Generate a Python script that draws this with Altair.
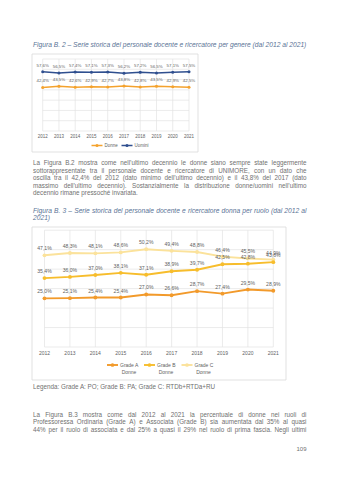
import altair as alt
import pandas as pd

# ---------------- data ----------------
years = [2012, 2013, 2014, 2015, 2016, 2017, 2018, 2019, 2020, 2021]

# Figura B.2
gender_series = ["Donne", "Uomini"]
donne = [42.4, 43.5, 42.6, 42.9, 42.7, 43.8, 42.8, 43.5, 42.9, 42.5]
uomini = [57.6, 56.5, 57.4, 57.1, 57.3, 56.2, 57.2, 56.5, 57.1, 57.5]

# Figura B.3
grade_series = ["Grade A Donne", "Grade B Donne", "Grade C Donne"]
grade_a = [25.0, 25.1, 25.4, 25.4, 27.0, 26.6, 28.7, 27.4, 29.5, 28.9]
grade_b = [35.4, 36.0, 37.0, 38.1, 37.1, 38.9, 39.7, 42.5, 42.8, 43.6]
grade_c = [47.1, 48.3, 48.1, 48.6, 50.2, 49.4, 48.8, 46.4, 45.5, 44.9]

caption1 = ["Figura B. 2 – Serie storica del personale docente e ricercatore per genere (dal 2012 al 2021)"]
para1 = [
    "La Figura B.2 mostra come nell\u2019ultimo decennio le donne siano sempre state leggermente",
    "sottorappresentate tra il personale docente e ricercatore di UNIMORE, con un dato che",
    "oscilla tra il 42,4% del 2012 (dato minimo dell\u2019ultimo decennio) e il 43,8% del 2017 (dato",
    "massimo dell\u2019ultimo decennio). Sostanzialmente la distribuzione donne/uomini nell\u2019ultimo",
    "decennio rimane pressoché invariata.",
]
caption2 = [
    "Figura B. 3 – Serie storica del personale docente e ricercatore donna per ruolo (dal 2012 al",
    "2021)",
]
legenda = ["Legenda: Grade A: PO; Grade B: PA; Grade C: RTDb+RTDa+RU"]
para3 = [
    "La Figura B.3 mostra come dal 2012 al 2021 la percentuale di donne nei ruoli di",
    "Professoressa Ordinaria (Grade A) e Associata (Grade B) sia aumentata dal 35% al quasi",
    "44% per il ruolo di associata e dal 25% a quasi il 29% nel ruolo di prima fascia. Negli ultimi",
]
page_number = ["109"]

# ---------------- styles ----------------
FONT = "Liberation Sans"
TXT = "#707070"
CAP = "#5a7396"
LAB = "#5f5f5f"
GRID = "#e3e3e3"
LEFT, RIGHT = 33.0, 306.5

# Arial / Liberation Sans advance widths (per 1000 em)
_W = {" ": 278, "a": 556, "b": 556, "c": 500, "d": 556, "e": 556, "f": 278, "g": 556, "h": 556,
      "i": 222, "j": 222, "k": 500, "l": 222, "m": 833, "n": 556, "o": 556, "p": 556, "q": 556,
      "r": 333, "s": 500, "t": 278, "u": 556, "v": 500, "w": 722, "x": 500, "y": 500, "z": 500,
      "A": 667, "B": 667, "C": 722, "D": 722, "E": 667, "F": 611, "G": 778, "H": 722, "I": 278,
      "J": 500, "K": 667, "L": 556, "M": 833, "N": 722, "O": 778, "P": 667, "Q": 778, "R": 722,
      "S": 667, "T": 611, "U": 722, "V": 667, "W": 944, "X": 667, "Y": 667, "Z": 611,
      ".": 278, ",": 278, "(": 333, ")": 333, "%": 889, "/": 278, "+": 584, ":": 278, ";": 278,
      "\u2019": 222, "'": 191, "\u2013": 556, "-": 333, "é": 556, "è": 556}


def text_width(s, size):
    return sum(_W.get(ch, 556) for ch in s) / 1000.0 * size


one = pd.DataFrame({"k": [0]})


def frame(x1, x2, y1, y2):
    return alt.Chart(one).mark_rect(fill="white", stroke="#d9d9d9", strokeWidth=0.8).encode(
        x=alt.value(x1), x2=alt.value(x2), y=alt.value(y1), y2=alt.value(y2))


def paragraph(lines, y0, size, color, lh, italic=False, justify_last=False):
    """Lay out word by word, justified between LEFT and RIGHT like the page."""
    rows = []
    for i, line in enumerate(lines):
        y = y0 + i * lh
        words = line.split(" ")
        last = i == len(lines) - 1
        if (last and not justify_last) or len(words) == 1:
            rows.append({"t": line, "x": LEFT, "y": y})
            continue
        ww = [text_width(w, size) for w in words]
        gap = (RIGHT - LEFT - sum(ww)) / (len(words) - 1)
        x = LEFT
        for w, wi in zip(words, ww):
            rows.append({"t": w, "x": x, "y": y})
            x += wi + gap
    df = pd.DataFrame(rows)
    return alt.Chart(df).mark_text(
        align="left", baseline="middle", fontSize=size, font=FONT,
        fontStyle="italic" if italic else "normal", color=color,
    ).encode(x=alt.X("x:Q", scale=None, axis=None), y=alt.Y("y:Q", scale=None, axis=None), text="t:N")


def line_panel(series_names, values, colors, xr, ymax, yr, lab_dy, lab_size,
               year_y, year_size, sw, msize):
    xs = alt.Scale(domain=[years[0], years[-1]], range=xr)
    ys = alt.Scale(domain=[0, ymax], range=yr)
    cs = alt.Scale(domain=series_names, range=colors)
    rows = []
    for name, vals in zip(series_names, values):
        for yv, v in zip(years, vals):
            rows.append({"series": name, "year": yv, "value": v})
    df = pd.DataFrame(rows)
    X = alt.X("year:Q", scale=xs, axis=None)
    Y = alt.Y("value:Q", scale=ys, axis=None)
    C = alt.Color("series:N", scale=cs, legend=None)

    hgrid = alt.Chart(pd.DataFrame({"g": list(range(0, ymax + 1, 10))})).mark_rule(
        color=GRID, strokeWidth=0.7).encode(
        y=alt.Y("g:Q", scale=ys, axis=None), x=alt.value(xr[0]), x2=alt.value(xr[1]))
    ydf = pd.DataFrame({"year": years})
    vgrid = alt.Chart(ydf).mark_rule(color=GRID, strokeWidth=0.7).encode(
        x=X, y=alt.value(yr[0]), y2=alt.value(yr[1]))
    lines = alt.Chart(df).mark_line(strokeWidth=sw).encode(x=X, y=Y, color=C, detail="series:N")
    pts = alt.Chart(df).mark_point(filled=True, size=msize, opacity=1).encode(x=X, y=Y, color=C)
    labs = alt.Chart(df).transform_calculate(
        lab="replace(format(datum.value, '.1f'), '.', ',') + '%'"
    ).mark_text(dy=lab_dy, fontSize=lab_size, font=FONT, color=LAB).encode(
        x=X, y=Y, text="lab:N")
    ylabs = alt.Chart(ydf).mark_text(fontSize=year_size, font=FONT, color=LAB, baseline="middle").encode(
        x=X, y=alt.value(year_y), text="year:N")
    return alt.layer(hgrid, vgrid, lines, pts, labs, ylabs)


def legend_item(x, y, color, label_lines, size, sw, msize):
    seg = alt.Chart(one).mark_rule(color=color, strokeWidth=sw).encode(
        x=alt.value(x - 5.5), x2=alt.value(x + 5.5), y=alt.value(y))
    dot = alt.Chart(one).mark_point(filled=True, size=msize, opacity=1, color=color).encode(
        x=alt.value(x), y=alt.value(y))
    t1 = alt.Chart(one).mark_text(text=label_lines[0], align="left", baseline="middle",
                                  fontSize=size, font=FONT, color=LAB).encode(
        x=alt.value(x + 7.5), y=alt.value(y))
    if len(label_lines) == 1:
        return [seg, dot, t1]
    t2 = alt.Chart(one).mark_text(text=label_lines[1], align="center", baseline="middle",
                                  fontSize=size, font=FONT, color=LAB).encode(
        x=alt.value(x + 16.5), y=alt.value(y + 7.3))
    return [seg, dot, t1, t2]


gender_colors = ["#f4a22d", "#2f4f8f"]
grade_colors = ["#f29a2b", "#f7bd2c", "#fbe29b"]

panel1 = line_panel(gender_series, [donne, uomini], gender_colors,
                    [42.7, 189.0], 70, [131.0, 59.0], -6, 4.4, 136.5, 4.5, 1.5, 9)
panel2 = line_panel(list(reversed(grade_series)), [grade_c, grade_b, grade_a],
                    list(reversed(grade_colors)),
                    [44.5, 273.3], 60, [347.0, 230.2], -7, 5.1, 353.3, 5.0, 1.9, 15)

legend1 = (legend_item(97, 145.5, gender_colors[0], ["Donne"], 4.5, 1.5, 9)
           + legend_item(127, 145.5, gender_colors[1], ["Uomini"], 4.5, 1.5, 9))
legend2 = (legend_item(112.5, 365, grade_colors[0], ["Grade A", "Donne"], 5.0, 1.9, 14)
           + legend_item(149.5, 365, grade_colors[1], ["Grade B", "Donne"], 5.0, 1.9, 14)
           + legend_item(187, 365, grade_colors[2], ["Grade C", "Donne"], 5.0, 1.9, 14))

BODY = 6.3
CAPSIZE = round((RIGHT - LEFT) / text_width(caption1[0], 1.0), 2)

texts = [
    paragraph(caption1, 45, CAPSIZE, CAP, 7.5, italic=True),
    paragraph(para1, 163, BODY, TXT, 7.5),
    paragraph(caption2, 210.5, CAPSIZE, CAP, 7.5, italic=True),
    paragraph(legenda, 387, BODY, TXT, 7.5),
    paragraph(para3, 415, BODY, TXT, 7.3, justify_last=True),
    alt.Chart(one).mark_text(text=page_number[0], align="right", baseline="middle",
                             fontSize=6.0, font=FONT, color=TXT).encode(
        x=alt.value(RIGHT), y=alt.value(449)),
]

chart = alt.layer(
    frame(32, 198, 54, 152),
    frame(32, 286, 227, 380),
    panel1,
    panel2,
    *legend1, *legend2, *texts,
).resolve_scale(x="independent", y="independent", color="independent").properties(
    width=339, height=480, padding=0, autosize="none", background="white"
).configure_view(stroke=None)

chart.save("out.html", embed_options={"renderer": "svg", "actions": False})
